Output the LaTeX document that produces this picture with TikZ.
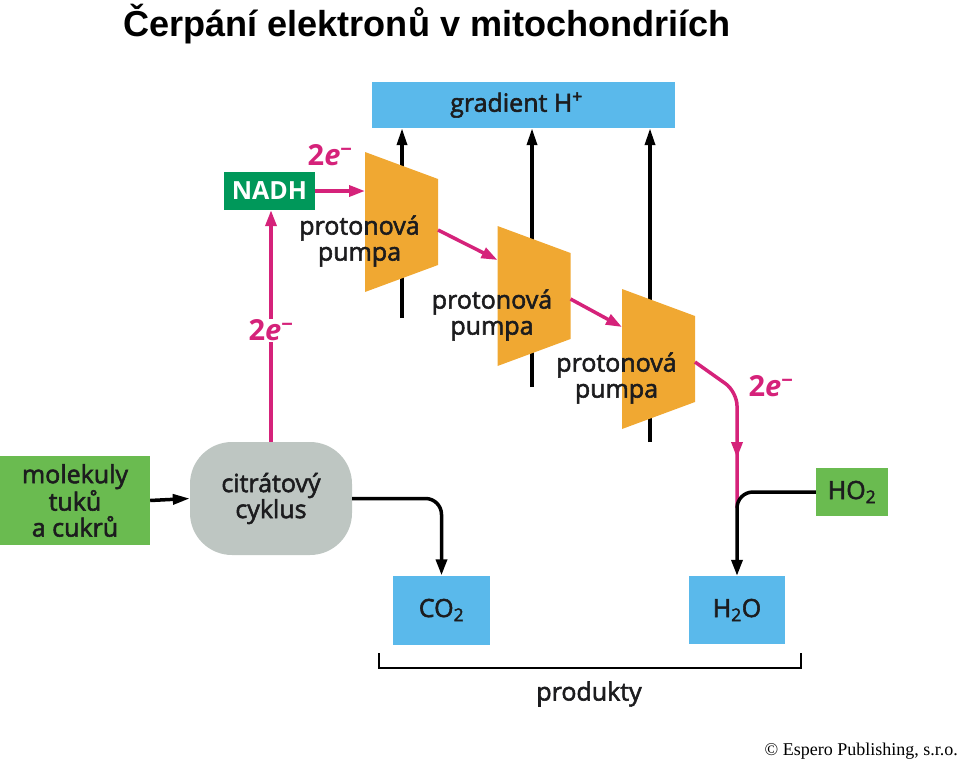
\documentclass[tikz,border=0pt]{standalone}
\usepackage{fontspec}
\setmainfont{Open Sans}
\newfontfamily\labelfont{Open Sans}[FakeBold=2.2]
\newfontfamily\titlefont{Liberation Sans}
\newfontfamily\copyfont{Liberation Serif}
\usetikzlibrary{arrows.meta,positioning,calc,decorations.markings}

\definecolor{gradblue}{RGB}{90,185,235}
\definecolor{nadhgreen}{RGB}{0,152,90}
\definecolor{leafgreen}{RGB}{106,187,80}
\definecolor{cyclegray}{RGB}{190,198,194}
\definecolor{pumporange}{RGB}{240,168,50}
\definecolor{emagenta}{RGB}{213,34,122}
\definecolor{inkdark}{RGB}{28,28,30}

\begin{document}
\begin{tikzpicture}[
        x=1pt, y=-1pt,
        box/.style={
            inner sep=0pt,
            align=center,
            text=inkdark,
            font=\labelfont\fontsize{25}{26}\selectfont
        },
        bluebox/.style={box, fill=gradblue},
        greenbox/.style={box, fill=leafgreen},
        pumptext/.style={box},
        elabel/.style={text=emagenta, inner sep=1pt, font=\bfseries\fontsize{29}{29}\selectfont},
        hflow/.style={
            -{Triangle[length=17pt,width=10pt]},
            line width=3.5pt,
            draw=black
        },
        eflow/.style={
            -{Triangle[length=16pt,width=11pt]},
            line width=3.5pt,
            draw=emagenta
        },
        oflow/.style={
            -{Triangle[length=16pt,width=11pt]},
            line width=3.5pt,
            draw=black,
            rounded corners=16pt
        }
    ]
    \useasboundingbox (0,0) rectangle (960,765);

    \node[anchor=base west, inner sep=0pt, font=\titlefont\bfseries\fontsize{36.1}{36}\selectfont] (title) at (123,37) {Čerpání elektronů v mitochondriích};
    \node[anchor=base east, inner sep=0pt, font=\copyfont\fontsize{18}{18}\selectfont] (copy) at (958,755) {© Espero Publishing, s.r.o.};

    \node[bluebox, minimum width=303pt, minimum height=46pt] (grad) at (523.5,105) {gradient H\textsuperscript{+}\hspace*{14pt}};

    % proton lines, pumps and their labels
    \foreach \i/\px/\py/\lx/\ly in {1/401.5/222/402/318, 2/534/296/532/387, 3/658.5/359/650/442}{
        \coordinate (h\i) at (\lx,\ly);
        \draw[hflow] (h\i) -- (h\i |- grad.south);
        \fill[pumporange] ({\px-36.5},{\py-70}) -- ({\px+36.5},{\py-43})
            -- ({\px+36.5},{\py+43}) -- ({\px-36.5},{\py+70}) -- cycle;
        \coordinate (p\i) at (\px,\py);
        \coordinate (p\i-w) at ({\px-36.5},\py);
        \coordinate (p\i-e) at ({\px+36.5},\py);
        \node[pumptext] (t\i) at ($(p\i)+(-42,19)$) {protonová\\pumpa};
    }

    \node[box, fill=nadhgreen, text=white, font=\bfseries\fontsize{25}{26}\selectfont,
        minimum width=91pt, minimum height=38pt] (nadh) at (269.5,191) {NADH};
    \node[greenbox, minimum width=150pt, minimum height=89pt] (fuel) at (75,500.5) {molekuly\\tuků\\a cukrů};
    \node[box, fill=cyclegray, rounded corners=42pt, minimum width=162pt, minimum height=113pt] (cycle) at (271,498.5) {citrátový\\cyklus};
    \node[bluebox, minimum width=97pt, minimum height=69pt] (co2) at (441.5,610) {CO\textsubscript{2}};
    \node[bluebox, minimum width=96pt, minimum height=68pt] (h2o) at (737,610) {H\textsubscript{2}O};
    \node[greenbox, minimum width=72pt, minimum height=48pt] (ho2) at (852,492) {HO\textsubscript{2}};

    \coordinate (bend) at ($(h2o.north)+(0,-184)$);
    \coordinate (join) at ($(h2o.north |- ho2.west)+(0,16)$);

    % electrons
    \draw[eflow] (nadh.east) -- (nadh.east -| p1-w)
        node[elabel, midway, yshift=36pt, xshift=-10pt] (e1) {2\textit{e}\textsuperscript{−}};
    \draw[eflow] (cycle.north) -- (cycle.north |- nadh.south)
        node[elabel, pos=0.48, fill=white] (e0) {2\textit{e}\textsuperscript{−}};
    \draw[eflow] ($(p1-e)+(0,8)$) -- ($(p2-w)+(0,-36)$);
    \draw[eflow] ($(p2-e)+(0,3)$) -- ($(p3-w)+(0,-32)$);
    \draw[emagenta, line width=3.5pt, rounded corners=14pt, postaction={decorate},
        decoration={markings, mark=at position -50pt with {\arrow{Triangle[length=16pt,width=11pt]}}}]
        ($(p3-e)+(0,3)$) -- (bend) -- (join);
    \node[elabel] (e3) at ($(bend)+(34,-6)$) {2\textit{e}\textsuperscript{−}};

    % carbon and oxygen
    \draw[hflow] (fuel.east) -- (cycle.west);
    \draw[oflow] (cycle.east) -| (co2.north);
    \draw[oflow] (ho2.west) -| (h2o.north);

    % products
    \coordinate (bl) at (379,653);
    \coordinate (br) at (801,653);
    \draw[line width=2.5pt] (bl) -- ++(0,15) -| (br);
    \node[box] (prod) at (589,694) {produkty};
\end{tikzpicture}
\end{document}
